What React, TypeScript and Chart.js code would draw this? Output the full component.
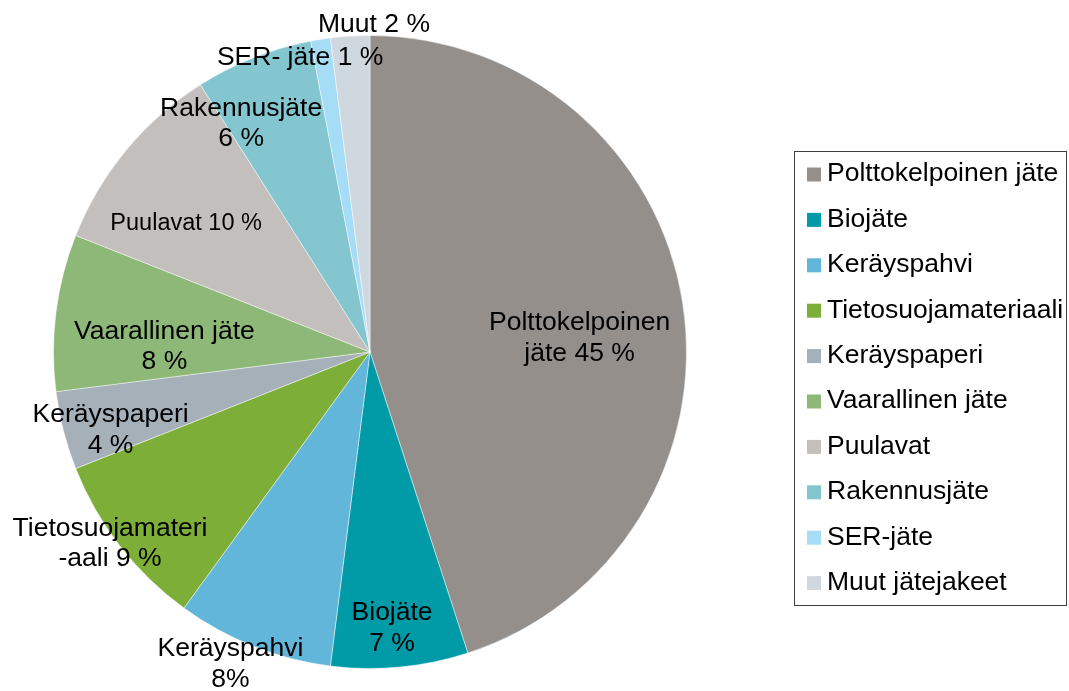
import React, { useEffect, useRef } from "react";
import { Chart, registerables } from "chart.js";

Chart.register(...registerables);

const categories = [
  "Polttokelpoinen jäte",
  "Biojäte",
  "Keräyspahvi",
  "Tietosuojamateriaali",
  "Keräyspaperi",
  "Vaarallinen jäte",
  "Puulavat",
  "Rakennusjäte",
  "SER-jäte",
  "Muut jätejakeet",
];

const shares = [45, 7, 8, 9, 4, 8, 10, 6, 1, 2];

const sliceColors = [
  "#958F8C",
  "#009BA7",
  "#62B6D9",
  "#7DAF38",
  "#A6B0B8",
  "#8DB877",
  "#C3BFBC",
  "#84C6D0",
  "#A5DCF6",
  "#D0D8DF",
];

// Data label texts (lines) as shown on the chart
const labelLines: string[][] = [
  ["Polttokelpoinen", "jäte 45 %"],
  ["Biojäte", "7 %"],
  ["Keräyspahvi", "8%"],
  ["Tietosuojamateri", "-aali 9 %"],
  ["Keräyspaperi", "4 %"],
  ["Vaarallinen jäte", "8 %"],
  ["Puulavat 10 %"],
  ["Rakennusjäte", "6 %"],
  ["SER- jäte 1 %"],
  ["Muut 2 %"],
];

// Label placement: fraction of radius, angular offset from slice middle (deg), font size
const labelRadius = [0.664, 0.87, 1.076, 1.018, 0.855, 0.65, 0.711, 0.832, 0.96, 1.039];
const labelAngleOffset = [4.8, 0.8, 2.6, 1.6, -2.1, -5.3, -4.4, -7.7, -4.3, 4.3];
const labelFontSize = [26.5, 26.5, 26.5, 26.5, 26.5, 26.5, 23.5, 26.5, 26.5, 26.5];

const FONT = "'Liberation Sans', Arial, sans-serif";

const labelPlugin = {
  id: "sliceLabels",
  afterDatasetsDraw(chart: any) {
    const ctx = chart.ctx;
    const meta = chart.getDatasetMeta(0);
    ctx.save();
    ctx.fillStyle = "#000";
    ctx.textAlign = "center";
    ctx.textBaseline = "middle";
    meta.data.forEach((arc: any, i: number) => {
      const p = arc.getProps(["x", "y", "startAngle", "endAngle", "outerRadius"], true);
      const mid = (p.startAngle + p.endAngle) / 2 + (labelAngleOffset[i] * Math.PI) / 180;
      const r = p.outerRadius * labelRadius[i];
      const cx = p.x + r * Math.cos(mid);
      const cy = p.y + r * Math.sin(mid) + 1.5;
      const lines = labelLines[i];
      const lh = 30.5;
      ctx.font = `${labelFontSize[i]}px ${FONT}`;
      lines.forEach((ln, j) => {
        const yy = cy + (j - (lines.length - 1) / 2) * lh;
        ctx.fillText(ln, cx, yy);
      });
    });
    ctx.restore();
  },
};

const legendPlugin = {
  id: "boxLegend",
  afterDraw(chart: any) {
    const ctx = chart.ctx;
    const labels = chart.data.labels as string[];
    const colors = chart.data.datasets[0].backgroundColor as string[];
    const left = 794.5;
    const top = 151.5;
    const right = 1066.5;
    const bottom = 605.5;
    ctx.save();
    ctx.strokeStyle = "#404040";
    ctx.lineWidth = 1;
    ctx.strokeRect(left, top, right - left, bottom - top);
    ctx.font = `26.5px ${FONT}`;
    ctx.textAlign = "left";
    ctx.textBaseline = "middle";
    const firstY = 174.5;
    const step = 45.4;
    labels.forEach((lab, i) => {
      const y = firstY + i * step;
      ctx.fillStyle = colors[i];
      ctx.fillRect(807, y - 7, 14, 14);
      ctx.fillStyle = "#000";
      ctx.fillText(lab, 827, y - 0.5);
    });
    ctx.restore();
  },
};

export default function App() {
  const ref = useRef<HTMLCanvasElement | null>(null);
  useEffect(() => {
    if (!ref.current) return;
    const chart = new Chart(ref.current, {
      type: "pie",
      data: {
        labels: categories,
        datasets: [
          {
            data: shares,
            backgroundColor: sliceColors,
            borderColor: "rgba(255,255,255,0.45)",
            borderWidth: 1,
          },
        ],
      },
      options: {
        responsive: false,
        animation: false,
        devicePixelRatio: 1,
        layout: { padding: { left: 53, top: 35, right: 382, bottom: 22 } },
        plugins: {
          legend: { display: false },
          tooltip: { enabled: false },
          title: { display: false },
        },
      },
      plugins: [labelPlugin, legendPlugin],
    });
    return () => chart.destroy();
  }, []);
  return (
    <div style={{ position: "fixed", left: 0, top: 0, width: 1069, height: 691, background: "#fff" }}>
      <canvas ref={ref} width={1069} height={691} style={{ display: "block" }} />
    </div>
  );
}
